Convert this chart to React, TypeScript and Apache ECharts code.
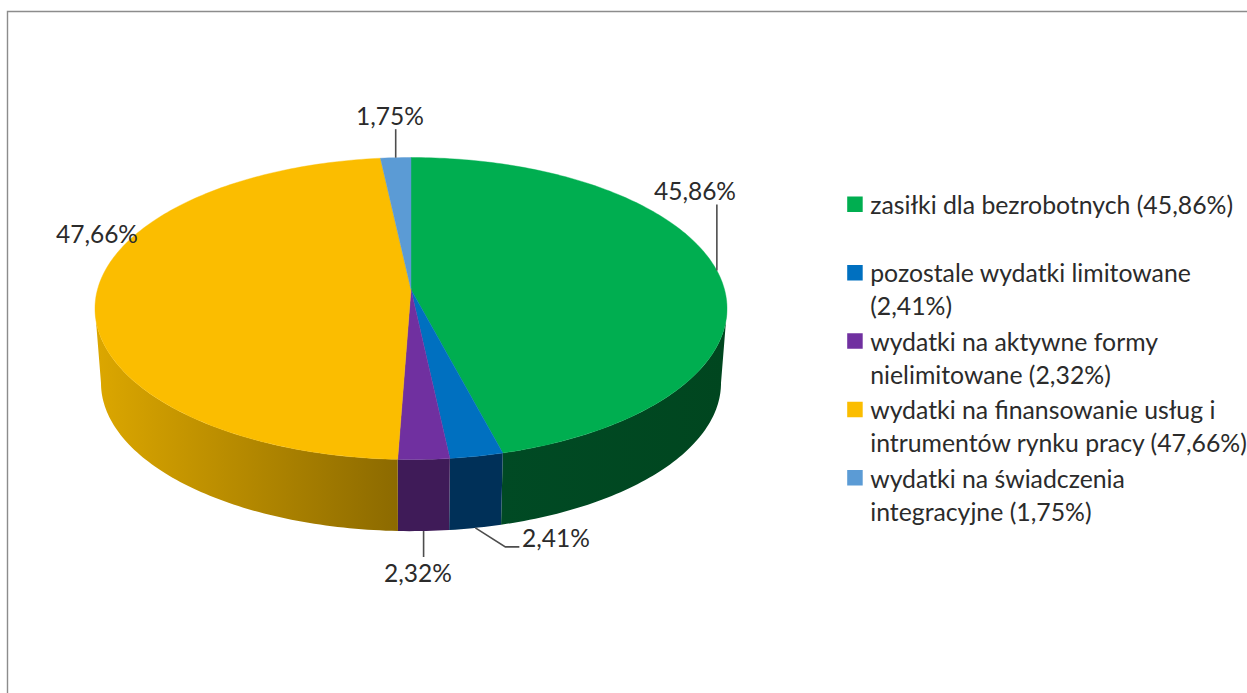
import React, { useEffect, useRef } from "react";
import * as echarts from "echarts";

const categories = [
  "zasiłki dla bezrobotnych",
  "pozostale wydatki limitowane",
  "wydatki na aktywne formy nielimitowane",
  "wydatki na finansowanie usług i intrumentów rynku pracy",
  "wydatki na świadczenia integracyjne",
];
const values = [45.86, 2.41, 2.32, 47.66, 1.75];
const legendLabels = [
  "zasiłki dla bezrobotnych (45,86%)\n ",
  "pozostale wydatki limitowane\n(2,41%)",
  "wydatki na aktywne formy\nnielimitowane (2,32%)",
  "wydatki na finansowanie usług i\nintrumentów rynku pracy (47,66%)",
  "wydatki na świadczenia\nintegracyjne (1,75%)",
];
const topColors = ["#00AE50", "#0070C0", "#7030A0", "#FBBD00", "#5B9BD5"];
const wallColors: [string, string][] = [
  ["#004A24", "#00461F"],
  ["#003058", "#003058"],
  ["#3F1B58", "#3F1B58"],
  ["#DCA700", "#8C6A00"],
  ["#35597A", "#35597A"],
];

// label layout: where the text sits and how the leader leaves the rim
const labelCentres: [number, number][] = [
  [695, 190.5],
  [556, 537],
  [418, 572.5],
  [97, 233],
  [390, 115],
];
const leaderPaths: ([number, number][] | null)[] = [
  [[0, -66]],
  [[30, 19], [44, 19]],
  [[0, 26]],
  null,
  [[0, -28.5]],
];
const leaderOnBottomRim = [false, true, true, false, false];

const FONT = "Lato";
const FONT_SIZE = 24.5;
const LEGEND_FONT_SIZE = 24.8;
const TEXT_COLOR = "#2b2b2b";

// Projection of the round pie on the page
const CX = 411;
const TOP_CY = 308.5;
const BOTTOM_CY = 383;
const BOTTOM_SCALE = 0.981;
const RY = 151;
const APEX = -19;
const CIRCLE_X = 313.5;
const PERSP = APEX / RY;

function project(deg: number) {
  const r = (deg * Math.PI) / 180;
  const u = Math.sin(r);
  const v = -Math.cos(r);
  const d = 1 + PERSP * v;
  return { x: (CIRCLE_X * u) / d, y: (RY * v + APEX) / d };
}
const topPoint = (deg: number): [number, number] => {
  const p = project(deg);
  return [CX + p.x, TOP_CY + p.y];
};
const bottomPoint = (deg: number): [number, number] => {
  const p = project(deg);
  return [CX + p.x * BOTTOM_SCALE, BOTTOM_CY + p.y * BOTTOM_SCALE];
};

const total = values.reduce((a, b) => a + b, 0);
const startAngles: number[] = [];
values.reduce((acc, v, i) => {
  startAngles[i] = (acc / total) * 360;
  return acc + v;
}, 0);

const VISIBLE_FROM = (Math.acos(PERSP) * 180) / Math.PI;
const VISIBLE_TO = 360 - VISIBLE_FROM;

function sweep(a: number, b: number): number[] {
  const n = Math.max(2, Math.ceil((b - a) / 1));
  const out: number[] = [];
  for (let i = 0; i <= n; i++) out.push(a + ((b - a) * i) / n);
  return out;
}

const formatValue = (v: number) => v.toFixed(2).replace(".", ",") + "%";

function makeRenderItem(i: number) {
  return (_params: any, api: any) => {
    const value = api.value(0) as number;
    const start = startAngles[i];
    const end = start + (value / total) * 360;
    const mid = (start + end) / 2;
    const children: any[] = [];

    const from = Math.max(start, VISIBLE_FROM);
    const to = Math.min(end, VISIBLE_TO);
    if (to > from) {
      const angles = sweep(from, to);
      const points = [
        ...angles.map(topPoint),
        ...angles.slice().reverse().map(bottomPoint),
      ];
      const [leftColor, rightColor] = wallColors[i];
      children.push({
        type: "polygon",
        shape: { points },
        style: {
          fill: new echarts.graphic.LinearGradient(0, 0, 1, 0, [
            { offset: 0, color: leftColor },
            { offset: 1, color: rightColor },
          ]),
        },
      });
    }

    const top = [[CX, TOP_CY + APEX], ...sweep(start, end).map(topPoint)];
    children.push({
      type: "polygon",
      shape: { points: top },
      style: { fill: topColors[i], stroke: topColors[i], lineWidth: 0.4 },
    });

    const leader = leaderPaths[i];
    if (leader) {
      const anchor = leaderOnBottomRim[i] ? bottomPoint(mid) : topPoint(mid);
      children.push({
        type: "polyline",
        shape: {
          points: [
            anchor,
            ...leader.map(([dx, dy]) => [anchor[0] + dx, anchor[1] + dy]),
          ],
        },
        style: { stroke: "#4d4d4d", lineWidth: 1.6, fill: "none" },
      });
    }

    children.push({
      type: "text",
      z2: 10,
      style: {
        text: formatValue(value),
        x: labelCentres[i][0],
        y: labelCentres[i][1],
        align: "center",
        verticalAlign: "middle",
        fontFamily: FONT,
        fontSize: FONT_SIZE,
        fill: TEXT_COLOR,
      },
    });
    return { type: "group", children };
  };
}

const LEGEND_ICON = "path://M18 0L18 0M0 8.5H15.5V24H0ZM18 66L18 66";

export default function App() {
  const ref = useRef<HTMLDivElement>(null);
  useEffect(() => {
    document.body.style.margin = "0";
    document.body.style.background = "#ffffff";
    const chart = echarts.init(ref.current!, undefined, { renderer: "svg" });
    chart.setOption({
      animation: false,
      backgroundColor: "#ffffff",
      legend: {
        orient: "vertical",
        left: 847.2,
        top: 188,
        padding: 0,
        itemWidth: 18,
        itemHeight: 66,
        itemGap: 2.4,
        selectedMode: false,
        align: "left",
        data: categories.map((name, i) => ({
          name,
          icon: LEGEND_ICON,
          itemStyle: { color: topColors[i] },
        })),
        formatter: (name: string) => legendLabels[categories.indexOf(name)],
        textStyle: {
          fontFamily: FONT,
          fontSize: LEGEND_FONT_SIZE,
          lineHeight: 33,
          color: TEXT_COLOR,
        },
      },
      graphic: [
        {
          type: "polyline",
          silent: true,
          shape: { points: [[7.5, 693], [7.5, 11.5], [1247, 11.5]] },
          style: { stroke: "#8c8c8c", lineWidth: 1.4, fill: "none" },
        },
      ],
      series: categories.map((name, i) => ({
        type: "custom",
        name,
        coordinateSystem: "none",
        itemStyle: { color: topColors[i] },
        data: [[values[i]]],
        renderItem: makeRenderItem(i),
      })),
    });
    return () => chart.dispose();
  }, []);
  return <div ref={ref} style={{ width: 1247, height: 693 }} />;
}
